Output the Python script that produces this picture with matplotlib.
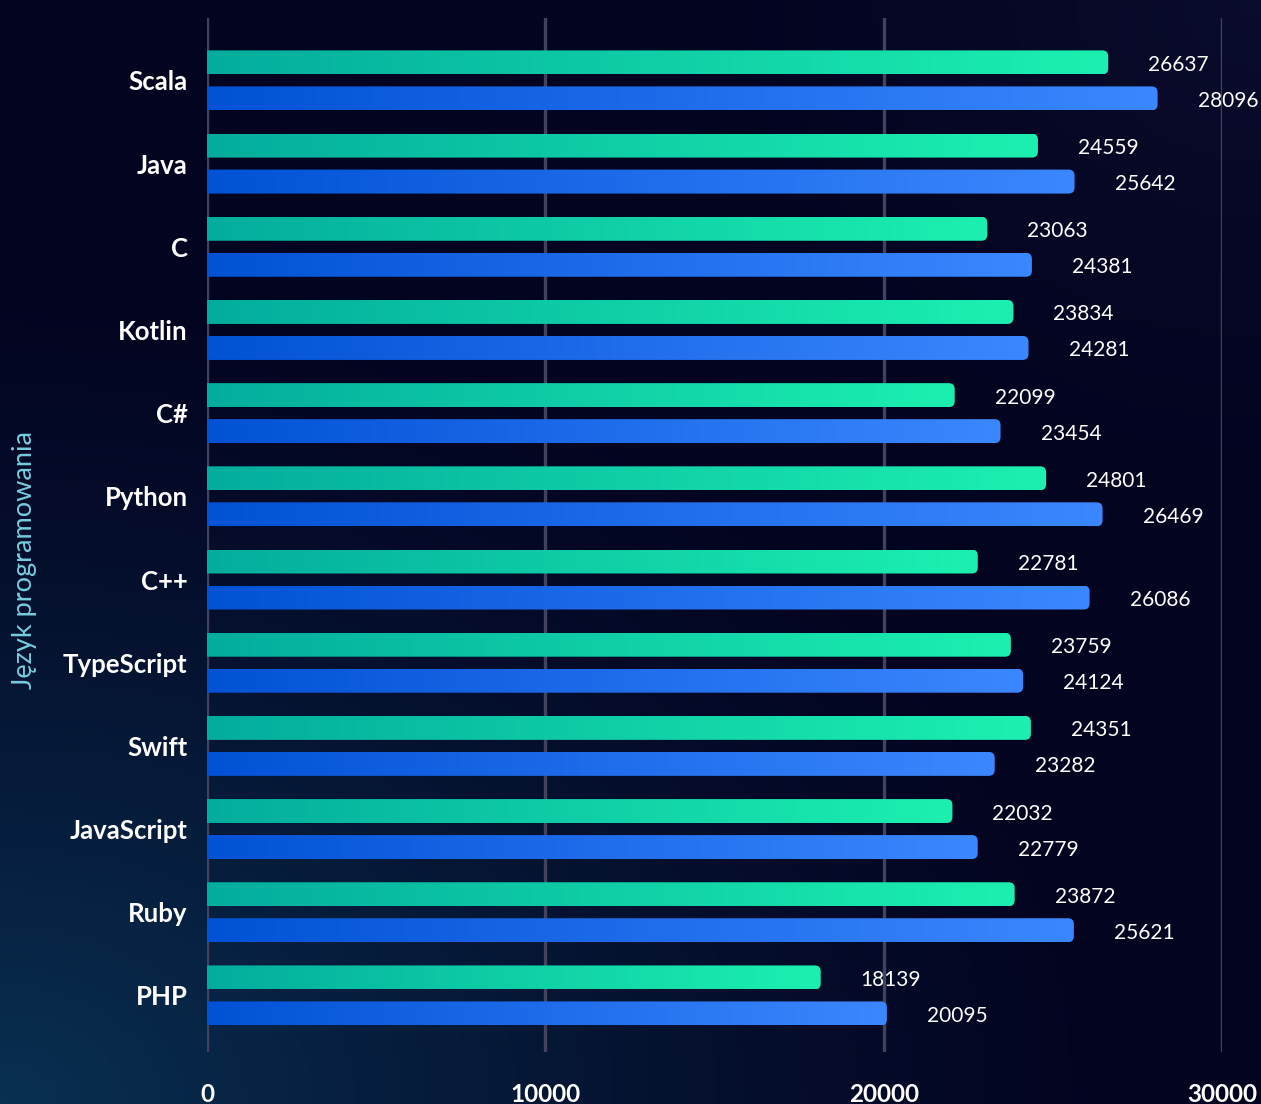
import numpy as np
import matplotlib
matplotlib.use("Agg")
import matplotlib.pyplot as plt
from matplotlib.colors import LinearSegmentedColormap
from matplotlib.patches import FancyBboxPatch

languages = ["Scala", "Java", "C", "Kotlin", "C#", "Python", "C++", "TypeScript",
             "Swift", "JavaScript", "Ruby", "PHP"]
series_green = [26637, 24559, 23063, 23834, 22099, 24801, 22781, 23759, 24351, 22032, 23872, 18139]
series_blue = [28096, 25642, 24381, 24281, 23454, 26469, 26086, 24124, 23282, 22779, 25621, 20095]
x_ticks = [0, 10000, 20000, 30000]
y_label = "Język programowania"

W, H, DPI = 1261, 1104, 100
fig = plt.figure(figsize=(W / DPI, H / DPI), dpi=DPI)

# background
bg = fig.add_axes([0, 0, 1, 1], zorder=-10)
bg.set_axis_off()
yy, xx = np.mgrid[0:1:300j, 0:1:340j]
base = np.array([3, 4, 32]) / 255.0
glow = np.array([9, 48, 82]) / 255.0
d = np.sqrt((xx / 0.9) ** 2 + ((yy) / 0.75) ** 2)
w = np.clip(1 - d, 0, 1) ** 1.3
glow2 = np.array([16, 18, 52]) / 255.0
d2 = np.sqrt(((1 - xx) / 0.5) ** 2 + ((1 - yy) / 0.5) ** 2)
w2 = np.clip(1 - d2, 0, 1) ** 1.5 * 0.6
img = base[None, None, :] * (1 - w[..., None]) + glow[None, None, :] * w[..., None]
img = img * (1 - w2[..., None]) + glow2[None, None, :] * w2[..., None]
bg.imshow(img, origin="lower", extent=[0, 1, 0, 1], aspect="auto")
bg.set_xlim(0, 1)
bg.set_ylim(0, 1)

ax = fig.add_axes([207 / W, 1 - 1052 / H, (1222 - 207) / W, (1052 - 18) / H])
ax.patch.set_alpha(0)
xmin, xmax = 0, 30000
ymin, ymax = -0.75, 11.68
ax.set_xlim(xmin, xmax)
ax.set_ylim(ymax, ymin)

px_x = (xmax - xmin) / (1222 - 207)
px_y = (ymax - ymin) / (1052 - 18)

green_cmap = LinearSegmentedColormap.from_list("g", ["#03ad9d", "#1cf0b0"])
blue_cmap = LinearSegmentedColormap.from_list("b", ["#0252d6", "#3b87ff"])

bar_h = 24 * px_y
offset = 18 * px_y
grad = np.linspace(0, 1, 256)[None, :]

def gradient_bar(y, v, cmap):
    r = 6
    patch = FancyBboxPatch((-2000, y - bar_h / 2), v + 2000, bar_h,
                           boxstyle=f"round,pad=0,rounding_size={r * px_x}",
                           mutation_aspect=px_y / px_x,
                           facecolor="none", edgecolor="none", transform=ax.transData)
    ax.add_patch(patch)
    im = ax.imshow(grad, cmap=cmap, extent=[0, v, y + bar_h / 2, y - bar_h / 2],
                   aspect="auto", zorder=3, interpolation="bilinear")
    im.set_clip_path(patch)

lab_off = (40 * 72 / DPI, -2.5 * 72 / DPI)
for i, (g, b) in enumerate(zip(series_green, series_blue)):
    gradient_bar(i - offset, g, green_cmap)
    gradient_bar(i + offset, b, blue_cmap)
    ax.annotate(f"{g}", (g, i - offset), xytext=lab_off, textcoords="offset points",
                ha="left", va="center", color="white", fontsize=15, family="Lato", zorder=5)
    ax.annotate(f"{b}", (b, i + offset), xytext=lab_off, textcoords="offset points",
                ha="left", va="center", color="white", fontsize=15, family="Lato", zorder=5)

ax.set_xlim(xmin, xmax)
ax.set_ylim(ymax, ymin)

for xv in x_ticks:
    ax.axvline(xv, color="#40425e", lw=2.4, zorder=1)

ax.set_xticks(x_ticks)
ax.set_xticklabels([str(t) for t in x_ticks], color="white", fontsize=17.5,
                   family="Lato", fontweight="bold")
ax.set_yticks(range(len(languages)))
ax.set_yticklabels(languages, color="white", fontsize=18.5, family="Lato", fontweight="bold")
ax.tick_params(axis="x", length=0, pad=22)
ax.tick_params(axis="y", length=0, pad=14)
for s in ax.spines.values():
    s.set_visible(False)

fig.text(25 / W, 1 - 560 / H, y_label, rotation=90, ha="center", va="center",
         color="#76cde0", fontsize=19.5, family="Lato")

fig.savefig("out.png", dpi=DPI)
